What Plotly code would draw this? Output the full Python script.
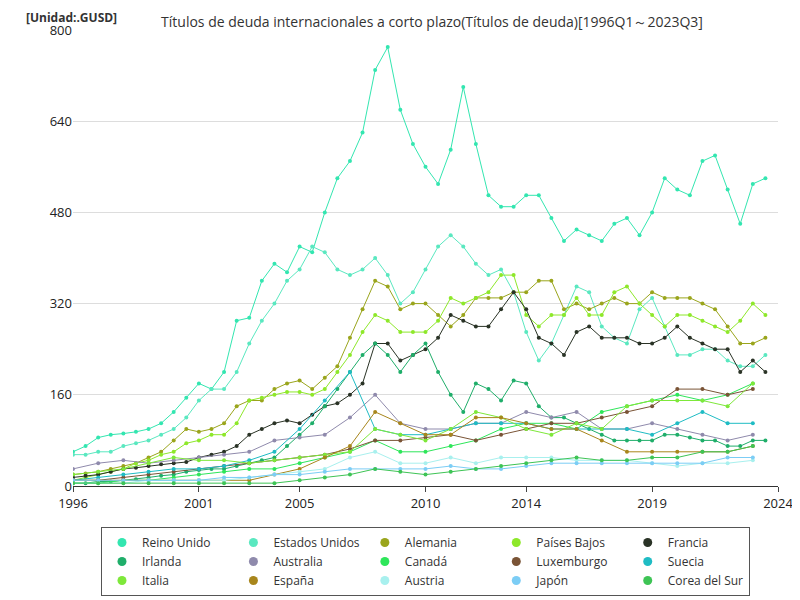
import plotly.graph_objects as go

years = list(range(1996, 2024))
half_years = [y + h for y in years for h in (0, 0.5)]

reino_unido = [60,70,85,90,92,95,100,110,130,155,180,170,200,290,295,360,390,375,420,410,480,540,570,620,730,770,660,600,560,530,590,700,600,510,490,490,510,510,470,430,450,440,430,460,470,440,480,540,520,510,570,580,520,460,530,540]
estados_unidos = [55,55,60,60,70,75,80,90,100,120,150,170,170,200,250,290,320,360,380,420,410,380,370,380,400,370,320,340,380,420,440,420,390,370,380,340,270,220,250,300,350,340,280,260,250,310,330,280,230,230,240,240,220,210,210,230]
alemania = [20,22,25,30,35,40,50,60,80,100,95,100,110,140,150,150,170,180,185,170,190,210,260,310,360,350,310,320,320,300,280,300,330,330,330,340,340,360,360,310,320,310,320,330,320,320,340,330,330,330,320,310,280,250,250,260]
paises_bajos = [10,15,20,25,30,40,45,55,60,75,80,90,90,110,150,155,160,165,165,160,170,200,230,270,300,290,270,270,270,290,330,320,330,340,370,370,300,280,300,300,330,300,300,340,350,320,300,280,300,300,290,280,270,290,320,300]
francia = [15,18,20,25,30,32,35,38,40,42,50,55,60,70,90,100,110,115,110,125,140,145,160,180,250,250,220,230,240,260,300,290,280,280,310,340,310,260,250,230,270,280,260,260,260,250,250,260,280,260,250,240,240,200,220,200]
irlanda = [5,5,8,8,10,12,15,18,20,25,28,30,30,35,40,45,50,70,90,110,140,170,200,230,250,230,200,230,250,200,160,130,180,170,150,185,180,140,120,120,110,100,90,80,80,80,80,90,90,85,80,80,70,70,80,80]

australia = [30,40,45,40,45,50,55,60,80,85,90,120,160,110,100,100,110,110,130,120,130,100,100,110,100,90,80,90]
canada = [5,5,10,10,15,20,25,30,30,40,50,60,80,60,60,70,80,100,110,110,100,130,140,150,160,150,160,180]
luxemburgo = [10,10,15,20,25,30,35,40,45,50,55,65,80,80,85,90,80,90,100,110,110,120,130,140,170,170,160,170]
suecia = [10,15,20,25,30,30,35,45,60,100,150,200,100,90,90,100,110,110,110,100,100,100,100,90,110,130,110,110]
italia = [20,25,30,40,50,45,45,40,45,50,55,60,100,90,80,100,130,120,100,90,110,100,140,150,150,150,140,180]
espana = [10,10,10,10,10,10,10,10,20,30,50,70,130,110,90,90,120,120,110,100,100,80,60,60,60,60,60,70]
austria = [5,5,5,10,10,10,10,15,20,25,30,50,60,40,40,50,40,50,50,50,45,45,45,40,35,40,40,45]
japon = [10,10,10,10,10,10,15,15,20,20,25,30,30,30,30,35,30,30,35,40,40,40,40,40,40,40,50,50]
corea = [5,5,5,5,5,5,5,5,5,10,15,20,30,25,20,25,30,35,40,45,50,45,45,50,50,60,60,70]

series = [
    ("Reino Unido", half_years, reino_unido, "#33e6b0"),
    ("Estados Unidos", half_years, estados_unidos, "#5ae8c0"),
    ("Alemania", half_years, alemania, "#9aa51c"),
    ("Países Bajos", half_years, paises_bajos, "#8ee82a"),
    ("Francia", half_years, francia, "#2a3326"),
    ("Irlanda", half_years, irlanda, "#1fae6a"),
    ("Australia", years, australia, "#8f8aac"),
    ("Canadá", years, canada, "#2ee65a"),
    ("Luxemburgo", years, luxemburgo, "#7a5436"),
    ("Suecia", years, suecia, "#1fbcc4"),
    ("Italia", years, italia, "#7ee83a"),
    ("España", years, espana, "#a8861c"),
    ("Austria", years, austria, "#a8f0ee"),
    ("Japón", years, japon, "#7ccdf5"),
    ("Corea del Sur", years, corea, "#3ec455"),
]

fig = go.Figure()
for name, x, y, c in series:
    fig.add_trace(go.Scatter(x=x, y=y, name=name, mode="lines+markers", showlegend=False,
                             line=dict(color=c, width=1), marker=dict(color=c, size=4)))
for name, x, y, c in series:
    fig.add_trace(go.Scatter(x=[None], y=[None], name=name, mode="markers",
                             marker=dict(color=c, size=9)))

fig.update_layout(
    width=800, height=600, plot_bgcolor="white", paper_bgcolor="white",
    margin=dict(l=65, r=30, t=22, b=114),
    font=dict(family="Open Sans", size=12, color="#333"),
    title=dict(text="Títulos de deuda internacionales a corto plazo(Títulos de deuda)[1996Q1～2023Q3]",
               x=0.53, xanchor="center", y=0.985, yanchor="top", font=dict(size=14, color="#333")),
    legend=dict(orientation="h", x=0.5, xanchor="center", y=-0.09, yanchor="top",
                bordercolor="#555", borderwidth=1, font=dict(size=12), itemwidth=30,
                entrywidth=0, entrywidthmode="pixels", tracegroupgap=0),
    xaxis=dict(range=[1996, 2024], tickvals=[1996, 2001, 2005, 2010, 2014, 2019, 2024],
               showgrid=False, showline=True, linecolor="#333", ticks="outside",
               tickfont=dict(size=13, color="#222")),
    yaxis=dict(range=[0, 800], tickvals=[0, 160, 320, 480, 640, 800], gridcolor="#ddd",
               zeroline=False, tickfont=dict(size=13, color="#222")),
    annotations=[dict(text="<b>[Unidad:.GUSD]</b>", xref="paper", yref="paper", x=-0.07, y=1.05,
                      xanchor="left", yanchor="top", showarrow=False, font=dict(size=12, color="#333"))],
)
fig.write_html("out.html")
